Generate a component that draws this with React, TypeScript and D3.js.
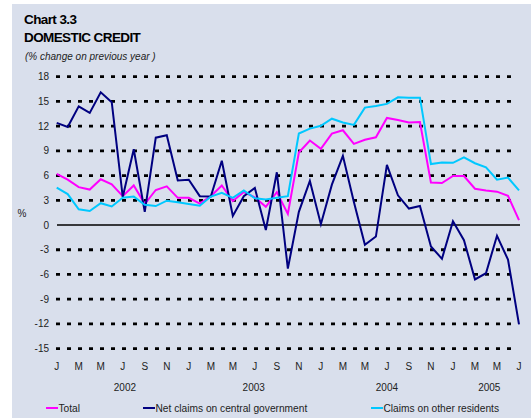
import React from "react";
import * as d3 from "d3";

const monthLabels = ["J","M","M","J","S","N","J","M","M","J","S","N","J","M","M","J","S","N","J","M","M","J"];
const yearLabels = ["2002", "2003", "2004", "2005"];
const yearPos = [6.2, 17.9, 30, 39.3];
const yTicks = [18, 15, 12, 9, 6, 3, 0, -3, -6, -9, -12, -15];

const total = [6.2,5.5,4.6,4.3,5.55,4.95,3.5,4.8,2.55,4.25,4.7,3.3,3.3,2.6,3.5,4.8,2.9,4.0,3.35,2.2,4.0,1.35,8.8,10.25,9.25,11.1,11.5,9.85,10.35,10.65,13.0,12.75,12.45,12.5,5.15,5.1,5.95,5.95,4.4,4.2,4.05,3.55,0.6];
const netGov = [12.4,11.9,14.4,13.6,16.1,14.9,3.4,9.2,1.6,10.6,10.9,5.4,5.5,3.5,3.45,7.8,1.1,3.5,4.5,-0.6,6.4,-5.3,1.6,5.35,0.1,4.9,8.4,2.8,-2.4,-1.4,7.3,3.6,2.0,2.3,-2.6,-4.1,0.45,-1.85,-6.6,-5.85,-1.3,-4.2,-12.05];
const otherRes = [4.55,3.75,1.9,1.7,2.65,2.25,3.3,3.45,2.45,2.3,2.95,2.75,2.55,2.35,3.45,3.9,3.3,4.2,3.25,3.1,3.3,3.5,11.1,11.7,12.05,12.9,12.45,12.15,14.25,14.45,14.7,15.5,15.45,15.45,7.4,7.6,7.55,8.2,7.5,7.0,5.5,5.75,4.2];

const series = [
  { name: "Total", values: total, color: "#FF00FF" },
  { name: "Net claims on central government", values: netGov, color: "#000080" },
  { name: "Claims on other residents", values: otherRes, color: "#00C8FF" },
];

const legendX = [46, 143, 371];

export default function App() {
  const x = d3.scaleLinear().domain([0, 42]).range([56.7, 519]);
  const y = d3.scaleLinear().domain([-15, 18]).range([348.6, 76.7]);
  const line = d3.line<number>().x((_, i) => x(i)).y((d) => y(d));
  const font = "'Liberation Sans', Arial, sans-serif";
  return (
    <svg width={531} height={418} style={{ position: "absolute", left: 0, top: 0 }} fontFamily={font}>
      <rect x={0} y={0} width={531} height={418} fill="#ffffff" />
      <rect x={12} y={4} width={519} height={414} fill="#D9DFEC" />
      <text x={24} y={24} fontSize={13.5} fontWeight="bold" letterSpacing={-0.6} fill="#000">Chart 3.3</text>
      <text x={24} y={41.5} fontSize={13.5} fontWeight="bold" letterSpacing={-0.6} fill="#000">DOMESTIC CREDIT</text>
      <text x={25} y={60} fontSize={10} fontStyle="italic" fill="#222">(% change on previous year )</text>
      {yTicks.map((t) =>
        t === 0 ? (
          <line key={t} x1={57} x2={520} y1={y(t)} y2={y(t)} stroke="#000" strokeWidth={1.6} />
        ) : (
          <line key={t} x1={56} x2={517} y1={y(t)} y2={y(t)} stroke="#000" strokeWidth={2.8} strokeDasharray="4 7" />
        )
      )}
      {yTicks.map((t) => (
        <text key={"l" + t} x={49} y={y(t) + 3.5} fontSize={10} textAnchor="end" fill="#222">{t}</text>
      ))}
      <text x={22} y={217} fontSize={10} textAnchor="middle" fill="#222">%</text>
      {series.map((s) => (
        <path key={s.name} d={line(s.values) || ""} fill="none" stroke={s.color} strokeWidth={2} strokeLinejoin="miter" />
      ))}
      {monthLabels.map((m, i) => (
        <text key={"m" + i} x={x(i * 2)} y={370} fontSize={10} textAnchor="middle" fill="#222">{m}</text>
      ))}
      {yearLabels.map((yl, i) => (
        <text key={yl} x={x(yearPos[i])} y={391} fontSize={10} textAnchor="middle" fill="#222">{yl}</text>
      ))}
      {series.map((s, i) => (
        <g key={"lg" + s.name}>
          <line x1={legendX[i]} x2={legendX[i] + 12} y1={408} y2={408} stroke={s.color} strokeWidth={2} />
          <text x={legendX[i] + 12.5} y={412} fontSize={10.2} fill="#222">{s.name}</text>
        </g>
      ))}
    </svg>
  );
}
